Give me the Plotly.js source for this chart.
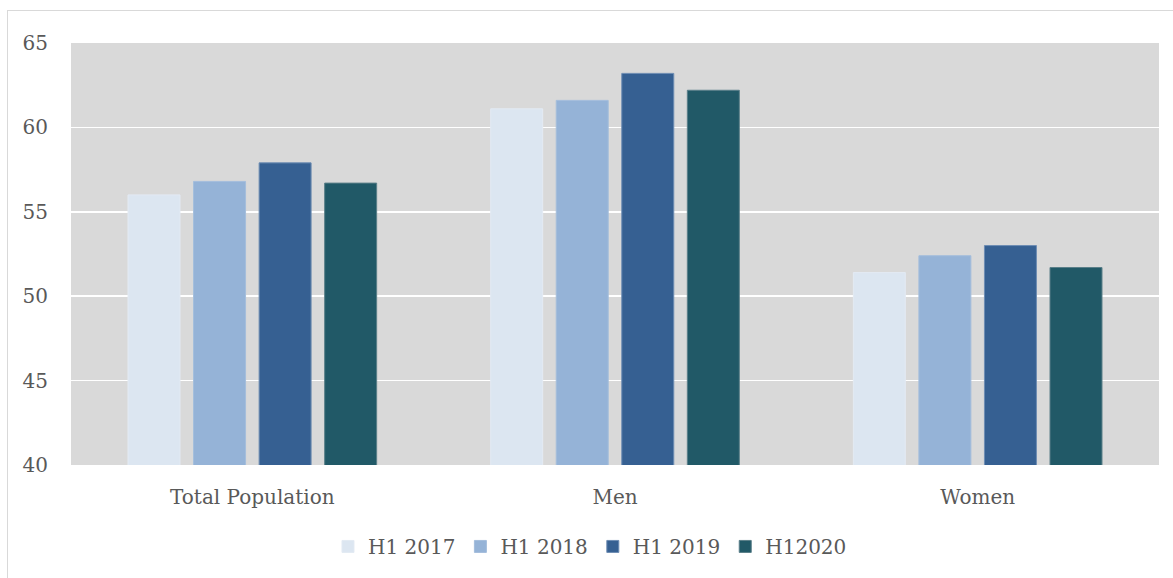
<!DOCTYPE html>
<html><head><meta charset="utf-8">
<script src="https://cdn.plot.ly/plotly-3.0.1.min.js"></script>
<style>
body{margin:0;padding:0;background:#fff;}
#frame{position:absolute;left:7px;top:10px;width:1200px;height:600px;border-left:1px solid #d9d9d9;border-top:1px solid #d9d9d9;}
#chart{position:absolute;left:0;top:0;width:1173px;height:578px;}
</style></head>
<body>
<div id="frame"></div>
<div id="chart"></div>
<script>
const categories = ["Total Population", "Men", "Women"];
const seriesNames = ["H1 2017", "H1 2018", "H1 2019", "H12020"];
const h1_2017 = [56.0, 61.1, 51.4];
const h1_2018 = [56.8, 61.6, 52.4];
const h1_2019 = [57.9, 63.2, 53.0];
const h1_2020 = [56.7, 62.2, 51.7];
const colors = ["#dce6f1", "#95b3d7", "#366092", "#215967"];
const lineColors = ["#e3eaf3", "#a4bedc", "#6e8db3", "#5a7f89"];

const values = [h1_2017, h1_2018, h1_2019, h1_2020];
const data = values.map((v, i) => ({
  type: "bar",
  name: seriesNames[i],
  x: categories,
  y: v,
  marker: {color: colors[i], line: {color: lineColors[i], width: 1}},
  hoverinfo: "x+y+name"
}));

const font = {family: "DejaVu Serif, serif", size: 20, color: "#595959"};
const layout = {
  width: 1173, height: 578,
  paper_bgcolor: "rgba(0,0,0,0)",
  plot_bgcolor: "#d9d9d9",
  margin: {l: 71, r: 14, t: 43, b: 111},
  barmode: "group",
  bargap: 0.277,
  bargroupgap: 0.207,
  font: font,
  xaxis: {
    showgrid: false, zeroline: false, showline: false,
    ticks: "", ticklabelstandoff: 18, tickfont: font
  },
  yaxis: {
    range: [40, 65], dtick: 5, tick0: 40,
    showgrid: true, gridcolor: "#ffffff", gridwidth: 1.5,
    zeroline: false, showline: false, ticks: "",
    ticklabelstandoff: 22, tickfont: font
  },
  legend: {
    orientation: "h", x: 0.477, xanchor: "center", y: -0.193, yanchor: "middle",
    font: font, itemwidth: 30, traceorder: "normal", bgcolor: "rgba(0,0,0,0)"
  },
  showlegend: true
};
Plotly.newPlot("chart", data, layout, {displayModeBar: false, staticPlot: true});
</script>
</body></html>
